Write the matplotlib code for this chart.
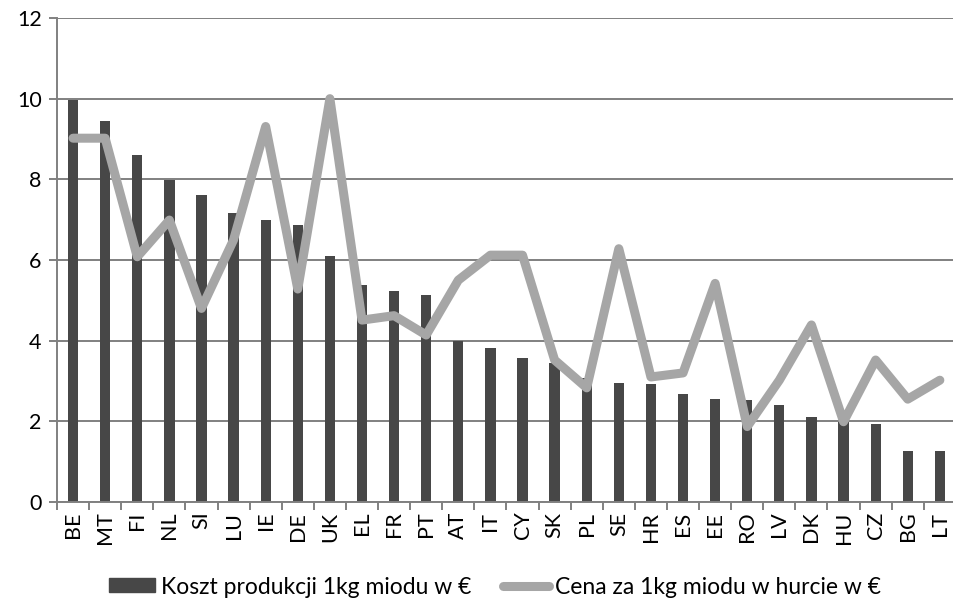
import numpy as np
import matplotlib.pyplot as plt
from matplotlib.lines import Line2D
from matplotlib.patches import Patch

countries = ['BE', 'MT', 'FI', 'NL', 'SI', 'LU', 'IE', 'DE', 'UK', 'EL', 'FR', 'PT', 'AT', 'IT',
             'CY', 'SK', 'PL', 'SE', 'HR', 'ES', 'EE', 'RO', 'LV', 'DK', 'HU', 'CZ', 'BG', 'LT']
koszt = [9.97, 9.45, 8.60, 7.98, 7.60, 7.17, 6.98, 6.86, 6.09, 5.38, 5.24, 5.12, 4.00, 3.83,
         3.58, 3.44, 3.08, 2.96, 2.92, 2.68, 2.55, 2.53, 2.40, 2.10, 1.98, 1.93, 1.26, 1.26]
cena = [9.02, 9.02, 6.08, 6.99, 4.80, 6.50, 9.31, 5.28, 10.0, 4.51, 4.62, 4.14, 5.50, 6.12,
        6.12, 3.52, 2.83, 6.28, 3.10, 3.20, 5.42, 1.87, 3.02, 4.39, 1.99, 3.52, 2.55, 3.02]

plt.rcParams['font.family'] = ['Lato', 'DejaVu Sans']
grid_col = '#808080'

fig = plt.figure(figsize=(9.54, 6.01), dpi=100)
ax = fig.add_axes([57/954, (601-502)/601, 1 - 57/954 + 0.002, (502-18)/601])

x = np.arange(len(countries))
ax.bar(x, koszt, width=0.32, color='#474747', zorder=2)
ax.plot(x, cena, color='#a6a6a6', linewidth=6.5, solid_joinstyle='round', solid_capstyle='round', zorder=3)

ax.set_xlim(-0.5, len(countries) - 0.5)
ax.set_ylim(0, 12)
ax.set_yticks(range(0, 13, 2))
ax.yaxis.grid(True, color=grid_col, linewidth=1.4, zorder=1)
ax.set_axisbelow(True)

ax.set_xticks(x)
ax.set_xticklabels(countries, rotation=90, fontsize=15.5)
ax.set_xticks(np.arange(-0.5, len(countries), 1), minor=True)
ax.tick_params(axis='x', which='major', length=0, pad=7)
ax.tick_params(axis='x', which='minor', length=6, width=1.4, color=grid_col, direction='out')
ax.tick_params(axis='y', length=6, width=1.4, color=grid_col, labelsize=15.5, pad=5)

for s in ['top', 'right']:
    ax.spines[s].set_visible(False)
for s in ['left', 'bottom']:
    ax.spines[s].set_color(grid_col)
    ax.spines[s].set_linewidth(1.4)

handles = [Patch(color='#474747'),
           Line2D([0], [0], color='#a6a6a6', linewidth=6.5, solid_capstyle='round')]
labels = ['Koszt produkcji 1kg miodu w €', 'Cena za 1kg miodu w hurcie w €']
fig.legend(handles, labels, loc='center', bbox_to_anchor=(495/954, 1 - 587/601), ncol=2,
           frameon=False, fontsize=16.5, handlelength=2.0, handleheight=0.55,
           columnspacing=1.4, handletextpad=0.25, borderpad=0)

fig.savefig('out.png', dpi=100)
